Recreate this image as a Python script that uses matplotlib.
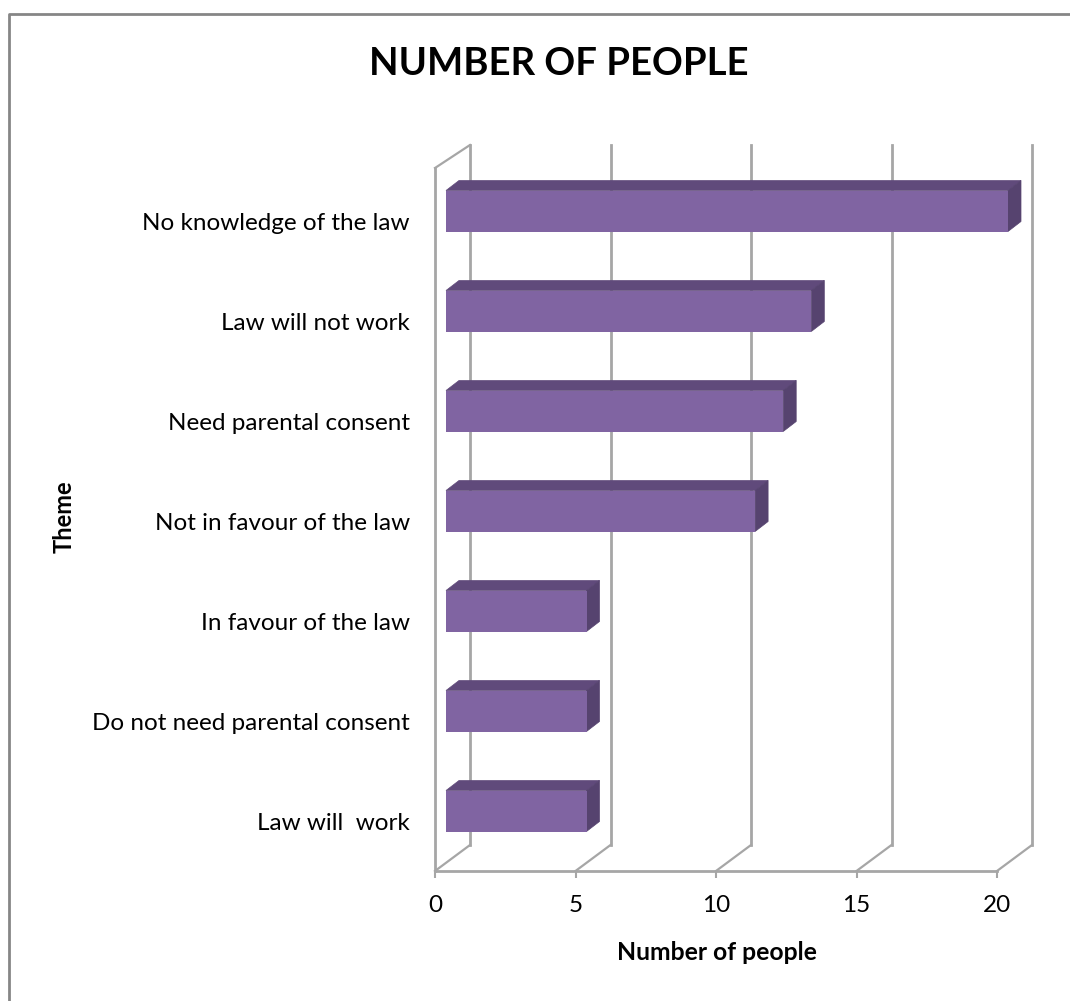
import matplotlib
matplotlib.use("Agg")
import matplotlib.pyplot as plt
from matplotlib.patches import Polygon

themes = ["Law will  work", "Do not need parental consent", "In favour of the law",
          "Not in favour of the law", "Need parental consent", "Law will not work",
          "No knowledge of the law"]
people = [5, 5, 5, 11, 12, 13, 20]
xticks = [0, 5, 10, 15, 20]

W, H = 1070, 1001
FRONT = "#8064a2"
TOP = "#604a7b"
SIDE = "#56436f"
GRID = "#a6a6a6"

plt.rcParams["font.family"] = ["Lato", "DejaVu Sans"]

fig = plt.figure(figsize=(W / 100, H / 100), dpi=100)
# axes box is the front plane of the fake 3d chart
left, right, top, bottom = 435, 997, 171, 871
ax = fig.add_axes([left / W, 1 - bottom / H, (right - left) / W, (bottom - top) / H])
ax.set_xlim(0, 20)
ax.set_ylim(-0.5, 6.5)
ax.patch.set_alpha(0)

px = 20 / (right - left)
py = 7 / (bottom - top)
# depth of the walls and of the bars, px converted to data units
wall_dx, wall_dy = 35 * px, 26 * py
bar_dx, bar_dy = 13 * px, 10 * py
off_x, off_y = 11 * px, 10 * py
bar_h = 41 * py

for t in xticks:
    ax.plot([t + wall_dx, t + wall_dx], [-0.5 + wall_dy, 6.5 + wall_dy], color=GRID, lw=2, clip_on=False, zorder=1)
    ax.plot([t, t + wall_dx], [-0.5, -0.5 + wall_dy], color=GRID, lw=1.6, clip_on=False, zorder=1)
ax.plot([0, 0], [-0.5, 6.5 + 3 * py], color=GRID, lw=2, clip_on=False, zorder=1)
ax.plot([0, wall_dx], [6.5 + 3 * py, 6.5 + wall_dy], color=GRID, lw=1.6, clip_on=False, zorder=1)

ys = [i + off_y for i in range(len(themes))]
for y, v in zip(ys, people):
    x0, x1 = off_x, off_x + v
    y0, y1 = y - bar_h / 2, y + bar_h / 2
    ax.add_patch(Polygon([(x0, y1), (x1, y1), (x1 + bar_dx, y1 + bar_dy), (x0 + bar_dx, y1 + bar_dy)],
                         fc=TOP, ec=TOP, lw=0.5, zorder=3, clip_on=False))
    ax.add_patch(Polygon([(x1, y0), (x1 + bar_dx, y0 + bar_dy), (x1 + bar_dx, y1 + bar_dy), (x1, y1)],
                         fc=SIDE, ec=SIDE, lw=0.5, zorder=3, clip_on=False))
ax.barh(ys, people, height=bar_h, left=off_x, color=FRONT, zorder=4, clip_on=False)

for s in ["top", "left", "right"]:
    ax.spines[s].set_visible(False)
ax.spines["bottom"].set_color(GRID)
ax.spines["bottom"].set_linewidth(2)
ax.set_xticks(xticks)
ax.tick_params(axis="x", color=GRID, width=1.5, length=5, labelsize=17.5, pad=12)
ax.set_yticks(range(len(themes)))
ax.set_yticklabels(themes)
ax.tick_params(axis="y", length=0, labelsize=17.5, pad=18)
ax.set_xlabel("Number of people", fontsize=17.8, fontweight="bold")
ax.xaxis.set_label_coords(0.5018, -0.1)
ax.set_ylabel("Theme", fontsize=17, fontweight="bold")
ax.yaxis.set_label_coords(-0.64, 0.506)

fig.text(559 / W, 1 - 64 / H, "NUMBER OF PEOPLE", fontsize=27.5, fontweight="bold", ha="center", va="center")

# outer chart frame
fig.add_artist(plt.Line2D([8.5 / W, 8.5 / W, 1], [0, 1 - 13.5 / H, 1 - 13.5 / H], color="#868686", lw=2))

fig.savefig("out.png", dpi=100)
